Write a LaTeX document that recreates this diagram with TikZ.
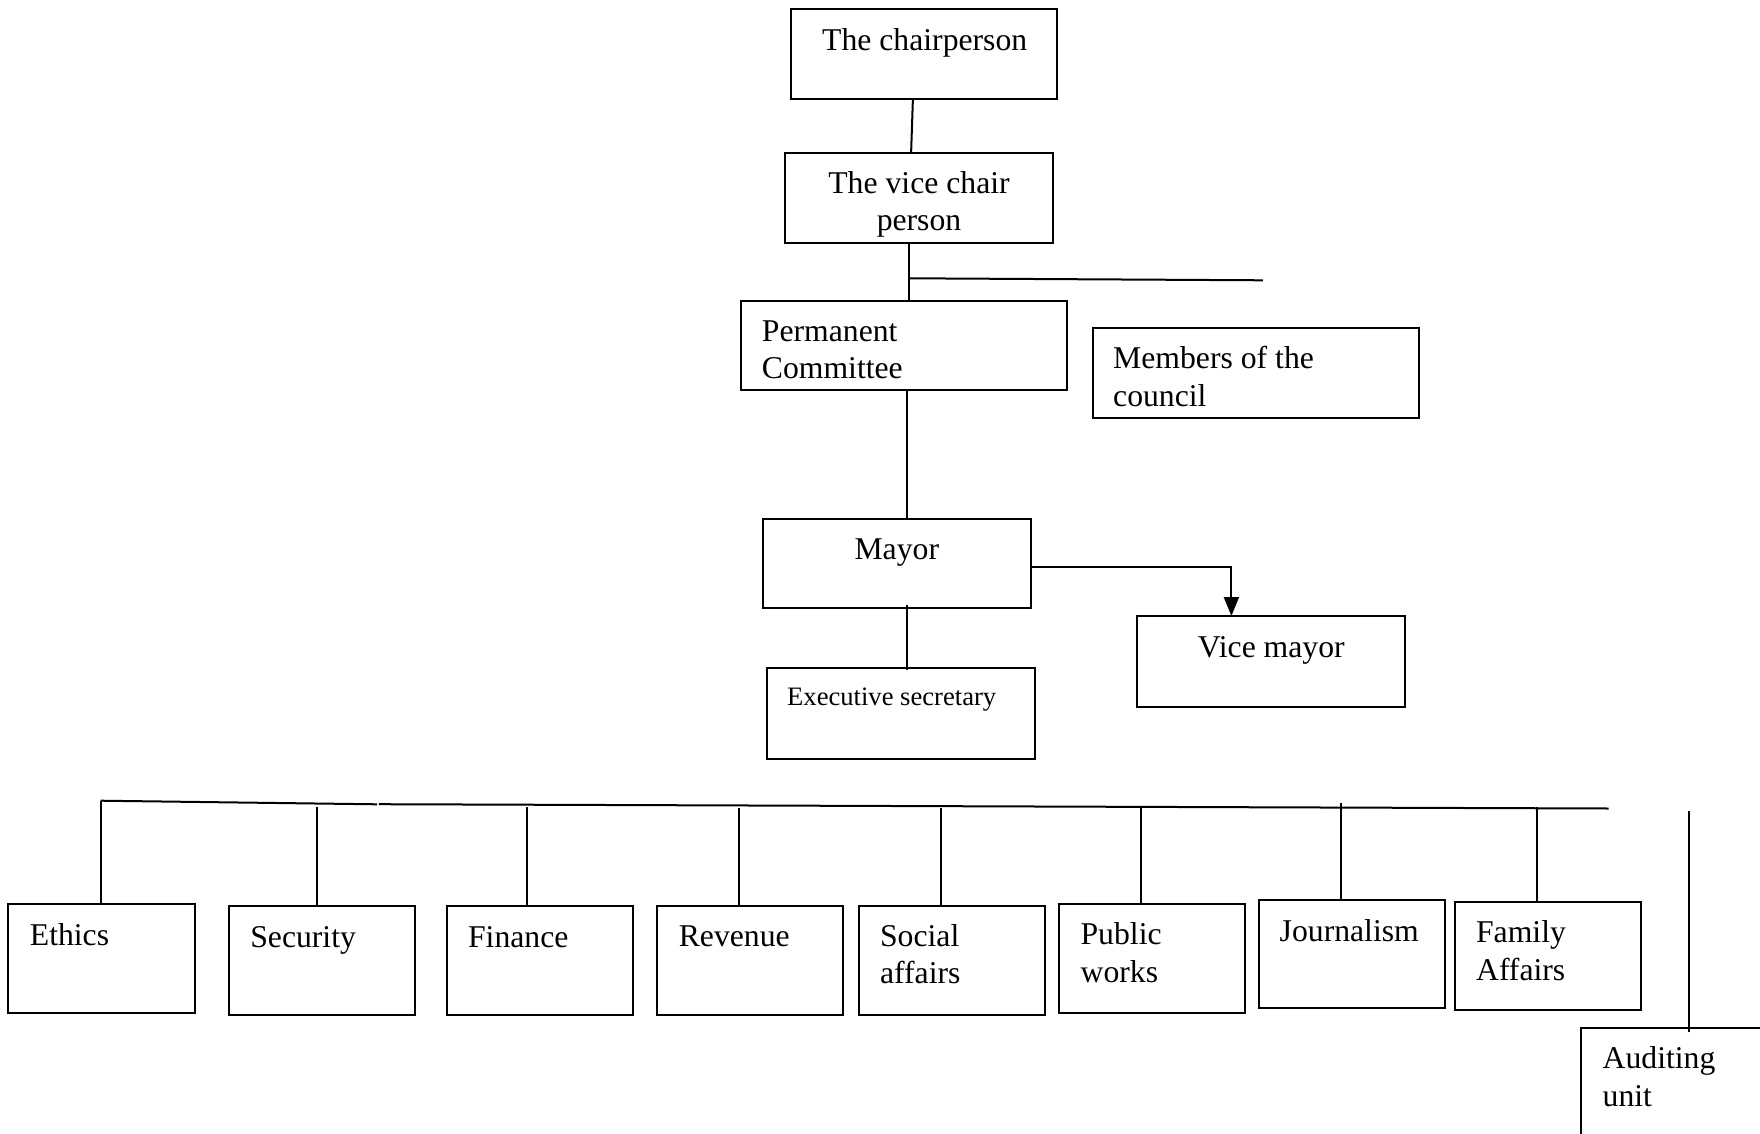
\documentclass[tikz,border=0pt]{standalone}
\usepackage{fontspec}
\setmainfont{Liberation Serif}
\usetikzlibrary{arrows.meta,fit,calc}
\begin{document}
\begin{tikzpicture}[x=0.5pt,y=-0.5pt,
  box/.style={draw, line width=1pt, inner sep=0pt, outer sep=0pt},
  lbl/.style={inner sep=0pt, font=\fontsize{15.85pt}{18.6pt}\selectfont},
  lbls/.style={inner sep=0pt, font=\fontsize{13.3pt}{15.5pt}\selectfont},
  conn/.style={line width=1pt},
  arr/.style={line width=1pt, -{Triangle[length=9.5pt,width=7.5pt]}}]
\useasboundingbox (0,0) rectangle (1760,1134);
\clip (0,0) rectangle (1760,1134);

% boxes
\node[box, fit={(790.5,9) (1057,98.7)}] (chair) {};
\node[box, fit={(784.7,152.7) (1053,242.7)}] (vice) {};
\node[box, fit={(741,301) (1067.3,390.3)}] (perm) {};
\node[box, fit={(1092.7,328.3) (1418.6,418.3)}] (members) {};
\node[box, fit={(762.6,519) (1031,608.3)}] (mayor) {};
\node[box, fit={(1136.8,616) (1404.9,706.7)}] (vmayor) {};
\node[box, fit={(766.9,668.3) (1035.3,758.7)}] (exec) {};
\node[box, fit={(8.4,904) (195.2,1012.7)}] (ethics) {};
\node[box, fit={(228.5,906) (415.2,1015)}] (security) {};
\node[box, fit={(446.6,906) (632.8,1015)}] (finance) {};
\node[box, fit={(656.5,906) (843.3,1015)}] (revenue) {};
\node[box, fit={(859,906) (1045.4,1015)}] (social) {};
\node[box, fit={(1058.8,904.3) (1245.3,1012.7)}] (public) {};
\node[box, fit={(1259,900.3) (1445.3,1008.3)}] (journal) {};
\node[box, fit={(1454.7,902.3) (1641.3,1010.3)}] (family) {};
\node[box, fit={(1580.7,1028.3) (1775,1150)}] (audit) {};

% labels (multi-line nodes: base = baseline of the last line)
\node[lbl, anchor=base] (chairT) at (924.7,50.5) {The chairperson};
\node[lbl, anchor=base, align=center] (viceT) at (919,231) {The vice chair\\person};
\node[lbl, anchor=base west, align=left] (permT) at (761.5,378.5) {Permanent\\Committee};
\node[lbl, anchor=base west, align=left] (membersT) at (1112.8,406) {Members of the\\council};
\node[lbl, anchor=base] (mayorT) at (896.8,559.3) {Mayor};
\node[lbl, anchor=base] (vmayorT) at (1271.3,657) {Vice mayor};
\node[lbls, anchor=base west] (execT) at (786.8,705) {Executive secretary};
\node[lbl, anchor=base west] (ethicsT) at (29.5,945.3) {Ethics};
\node[lbl, anchor=base west] (securityT) at (249.9,947.7) {Security};
\node[lbl, anchor=base west] (financeT) at (467.7,947.7) {Finance};
\node[lbl, anchor=base west] (revenueT) at (678.4,946.7) {Revenue};
\node[lbl, anchor=base west, align=left] (socialT) at (879.7,983.7) {Social\\affairs};
\node[lbl, anchor=base west, align=left] (publicT) at (1080.2,982) {Public\\works};
\node[lbl, anchor=base west] (journalT) at (1279.3,941) {Journalism};
\node[lbl, anchor=base west, align=left] (familyT) at (1475.7,980) {Family\\Affairs};
\node[lbl, anchor=base west, align=left] (auditT) at (1602.3,1106) {Auditing\\unit};

% upper connectors
\draw[conn] ($(chair.south)+(-10.85,0)$) -- ($(vice.north)+(-7.75,0)$);
\draw[conn] ($(vice.south)+(-9.55,0)$) -- ($(perm.north)+(5.15,0)$);
\coordinate (brend) at (1262.8,280.3);
\draw[conn] ($(vice.south)+(-8.65,35.6)$) -- (brend);
\draw[conn] ($(perm.south)+(2.45,0)$) -- ($(mayor.north)+(9.8,0)$);
\draw[arr] ($(mayor.east)+(0,3)$) -| ($(vmayor.north)+(-39.45,0)$);
\draw[conn] ($(mayor.south)+(10.2,-3.3)$) -- ($(exec.north)+(5.9,1.7)$);

% bus
\coordinate (b0) at (100.6,800.7);
\coordinate (bg1) at (377,804.3);
\coordinate (bg2) at (378.9,804.2);
\coordinate (b1) at (1608.7,808.5);
\draw[conn] (b0) -- (bg1);
\draw[conn] (bg2) -- (b1);

% drops
\draw[conn] (b0) -- ($(ethics.north)+(-1.2,0)$);
\draw[conn] ($(security.north)+(-4.95,0)$) -- ++(0,-99.3);
\draw[conn] ($(finance.north)+(-12.3,0)$) -- ++(0,-99.3);
\draw[conn] ($(revenue.north)+(-11.1,0)$) -- ++(0,-97.7);
\draw[conn] ($(social.north)+(-11.3,0)$) -- ++(0,-98);
\draw[conn] ($(public.north)+(-11.05,0)$) -- ++(0,-97);
\draw[conn] ($(journal.north)+(-11.15,0)$) -- ++(0,-97.6);
\draw[conn] ($(family.north)+(-11,0)$) -- ++(0,-95.6);
\draw[conn] ($(audit.north)+(10.85,4)$) -- ++(0,-221.6);
\end{tikzpicture}
\end{document}
